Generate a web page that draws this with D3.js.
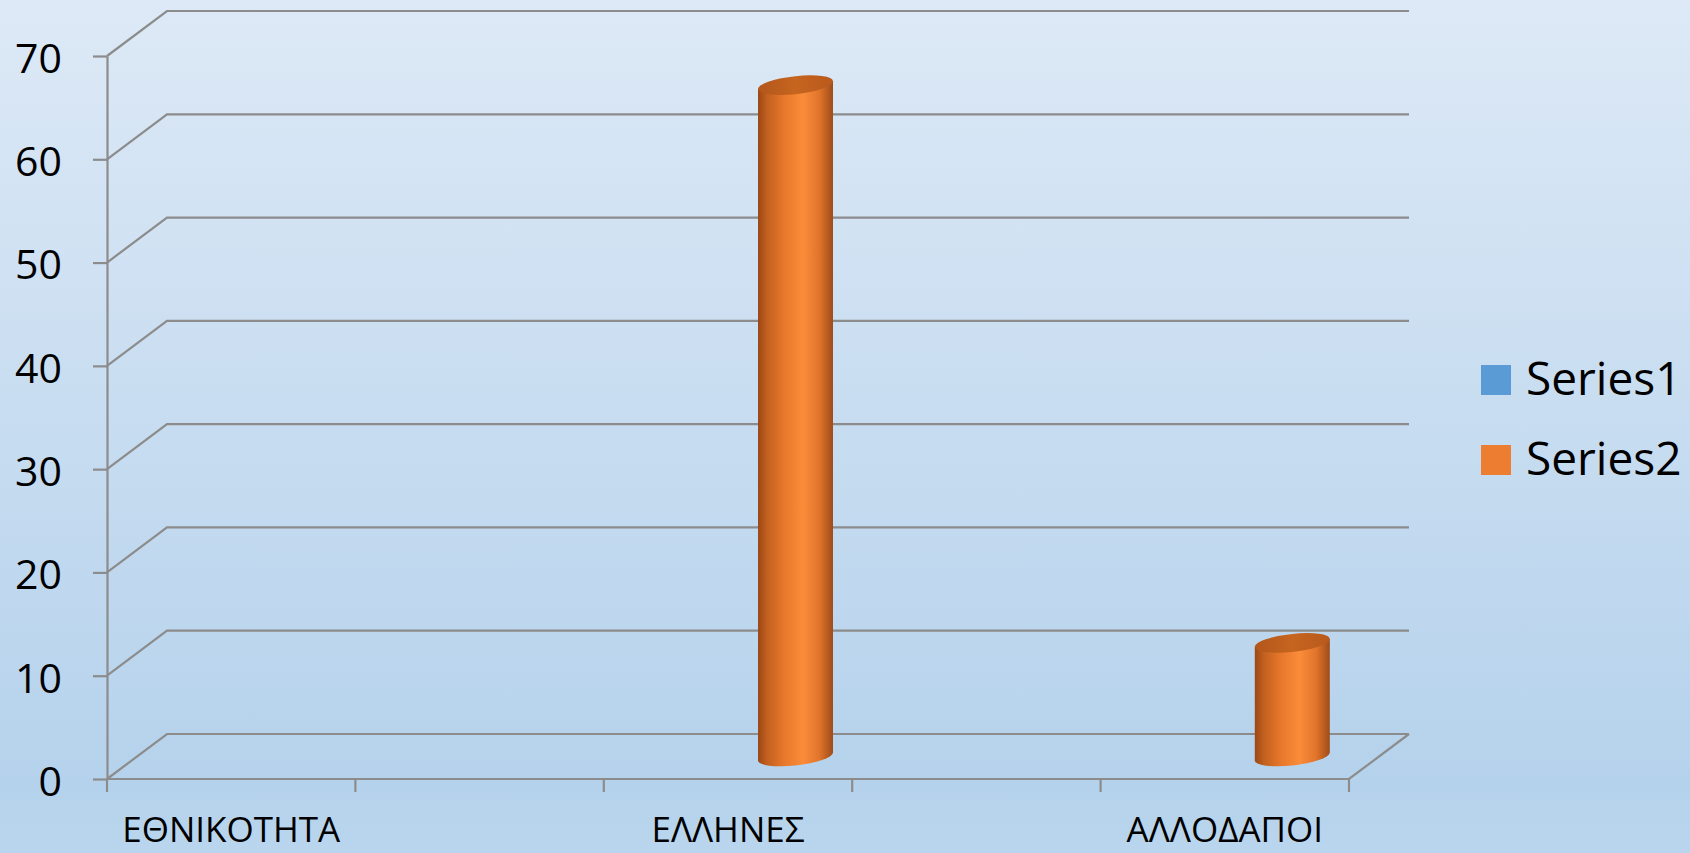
<!DOCTYPE html>
<html>
<head>
<meta charset="utf-8">
<script src="https://cdn.jsdelivr.net/npm/d3@7"></script>
<style>
  html, body { margin: 0; padding: 0; background: #c8dcf0; }
  svg { display: block; }
  text { font-family: "Open Sans", "Noto Sans", sans-serif; fill: #000; }
</style>
</head>
<body>
<svg id="chart" width="1690" height="853"></svg>
<script>
// ---- data ----
const categories = ["ΕΘΝΙΚΟΤΗΤΑ", "", "ΕΛΛΗΝΕΣ", "", "ΑΛΛΟΔΑΠΟΙ"];
const seriesNames = ["Series1", "Series2"];
const series1 = [null, null, null, null, null];
const series2 = [null, null, 65, null, 11];
const yTicks = [0, 10, 20, 30, 40, 50, 60, 70];
const seriesColors = ["#5b9bd5", "#ed7d31"];

// ---- layout ----
const W = 1690, H = 853;
const plot = { left: 107, right: 1349, top: 56, bottom: 779 };
const depth = { dx: 60, dy: -45 };

const svg = d3.select("#chart");
const defs = svg.append("defs");

const bg = defs.append("linearGradient").attr("id", "bg").attr("x1", 0).attr("y1", 0).attr("x2", 0).attr("y2", 1);
bg.append("stop").attr("offset", "0%").attr("stop-color", "#dde9f6");
bg.append("stop").attr("offset", "92%").attr("stop-color", "#b5d2ec");
bg.append("stop").attr("offset", "100%").attr("stop-color", "#bad6ee");
svg.append("rect").attr("width", W).attr("height", H).attr("fill", "url(#bg)");

const bodyGrad = defs.append("linearGradient").attr("id", "cylBody").attr("x1", 0).attr("y1", 0).attr("x2", 1).attr("y2", 0);
[["0%", "#9a4816"], ["12%", "#c2601f"], ["35%", "#e8782b"], ["60%", "#fa8c3a"], ["82%", "#e0742a"], ["100%", "#9e4c19"]]
  .forEach(([o, c]) => bodyGrad.append("stop").attr("offset", o).attr("stop-color", c));
const topGrad = defs.append("linearGradient").attr("id", "cylTop").attr("x1", 0).attr("y1", 0).attr("x2", 1).attr("y2", 0);
[["0%", "#b3561b"], ["50%", "#c6651f"], ["100%", "#b9591c"]]
  .forEach(([o, c]) => topGrad.append("stop").attr("offset", o).attr("stop-color", c));

const x = d3.scaleBand().domain(d3.range(categories.length)).range([plot.left, plot.right]).padding(0);
const xs = d3.scaleBand().domain(seriesNames).range([0, x.bandwidth()]).paddingInner(0).paddingOuter(0.656);
const y = d3.scaleLinear().domain([0, 70]).range([plot.bottom, plot.top]);

const gridColor = "#8c8c8c";
const grid = svg.append("g").attr("fill", "none").attr("stroke", gridColor).attr("stroke-width", 2.2);

// wall gridlines (side wall diagonal + back wall horizontal)
grid.selectAll("path.gl").data(yTicks).join("path")
  .attr("class", "gl")
  .attr("d", t => `M${plot.left},${y(t)} L${plot.left + depth.dx},${y(t) + depth.dy} L${plot.right + depth.dx},${y(t) + depth.dy}`);

// floor edges
grid.append("path").attr("d", `M${plot.left},${y(0)} L${plot.right},${y(0)} L${plot.right + depth.dx},${y(0) + depth.dy}`);

// y axis
const yAxis = d3.axisLeft(y).tickValues(yTicks).tickSizeInner(14).tickSizeOuter(0).tickPadding(31);
const gy = svg.append("g").attr("transform", `translate(${plot.left},0)`).call(yAxis);
gy.select(".domain").attr("stroke", gridColor).attr("stroke-width", 2.2);
gy.selectAll(".tick line").attr("stroke", gridColor).attr("stroke-width", 2.2);
gy.selectAll(".tick text").attr("font-size", 41).attr("dy", "0.4em")
  .style("font-family", '"Open Sans", sans-serif').attr("fill", "#000");

// x axis labels (centered in bands), ticks at band boundaries
const xAxis = d3.axisBottom(x).tickSize(0).tickPadding(38).tickFormat(i => categories[i]);
const gx = svg.append("g").attr("transform", `translate(0,${plot.bottom})`).call(xAxis);
gx.select(".domain").remove();
gx.selectAll(".tick text").attr("font-size", 35)
  .style("font-family", '"Open Sans", sans-serif').attr("fill", "#000");
const boundaries = d3.range(categories.length + 1).map(i => i < categories.length ? x(i) : x(i - 1) + x.bandwidth());
svg.append("g").selectAll("line").data(boundaries).join("line")
  .attr("x1", d => d).attr("x2", d => d)
  .attr("y1", plot.bottom).attr("y2", plot.bottom + 13)
  .attr("stroke", gridColor).attr("stroke-width", 2.2);

// cylinders
const bars = [];
[series1, series2].forEach((vals, si) => {
  vals.forEach((v, ci) => {
    if (v == null) return;
    bars.push({ s: seriesNames[si], ci, v });
  });
});
const skew = -6;
const ry = 9;
const cyl = svg.append("g").selectAll("g").data(bars).join("g")
  .attr("transform", d => {
    const cx = x(d.ci) + xs(d.s) + xs.bandwidth() / 2 + depth.dx / 2;
    return `translate(${cx},0) skewY(${skew})`;
  });
cyl.append("path")
  .attr("fill", "url(#cylBody)")
  .attr("d", d => {
    const rx = xs.bandwidth() / 2;
    const yb = y(0) + depth.dy / 2, yt = y(d.v) + depth.dy / 2;
    return `M${-rx},${yt} L${-rx},${yb} A${rx},${ry} 0 0 0 ${rx},${yb} L${rx},${yt} Z`;
  });
cyl.append("ellipse")
  .attr("fill", "url(#cylTop)")
  .attr("cx", 0)
  .attr("cy", d => y(d.v) + depth.dy / 2)
  .attr("rx", xs.bandwidth() / 2)
  .attr("ry", ry);

// legend
const lg = svg.append("g").selectAll("g").data(seriesNames).join("g")
  .attr("transform", (d, i) => `translate(1481,${365 + i * 80})`);
lg.append("rect").attr("width", 30).attr("height", 30).attr("fill", (d, i) => seriesColors[i]);
lg.append("text").attr("x", 45).attr("y", 30).attr("font-size", 46).text(d => d);
</script>
</body>
</html>
